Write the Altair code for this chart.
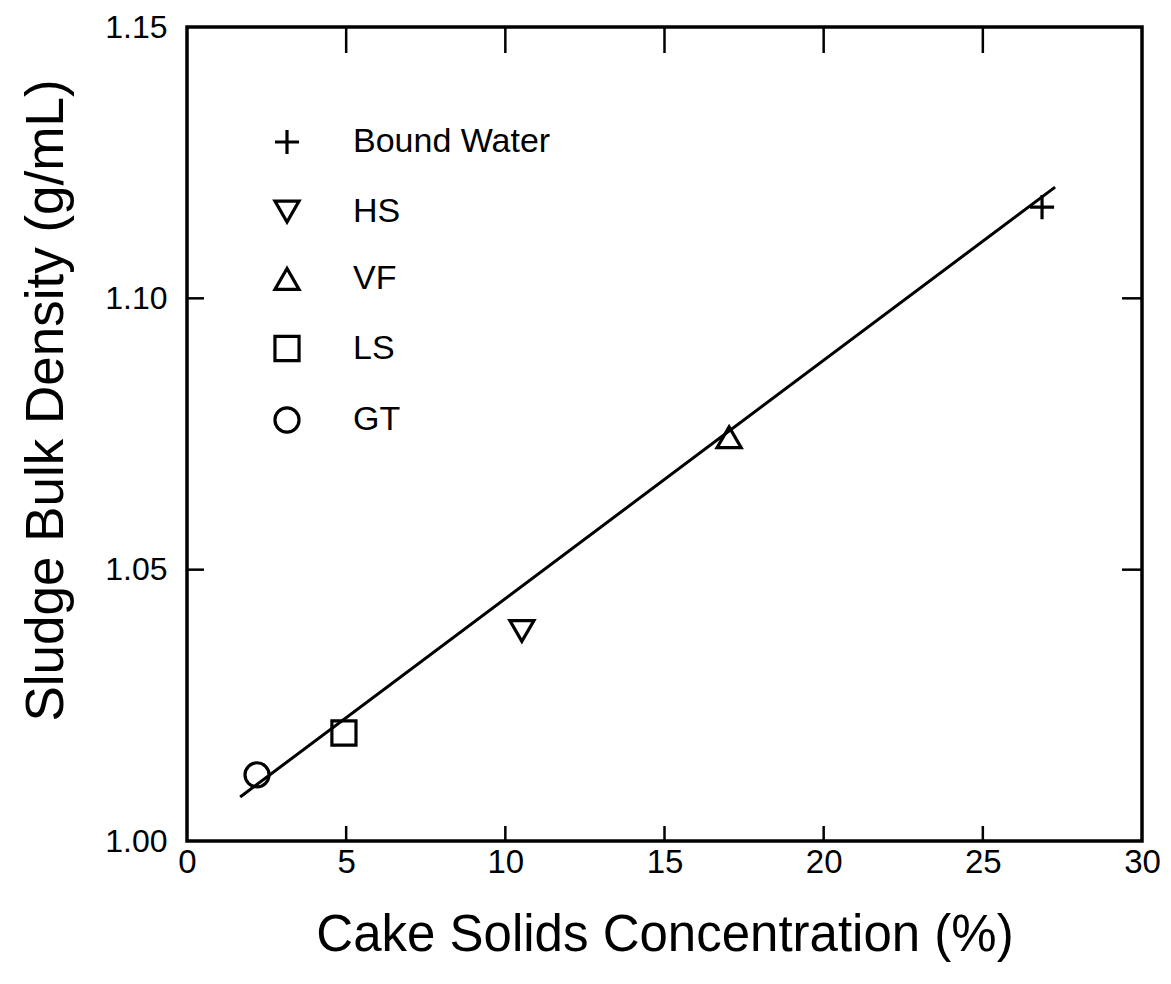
import altair as alt
import pandas as pd

# Data
categories = ["Bound Water", "HS", "VF", "LS", "GT"]
solids = [26.86, 10.52, 17.03, 4.93, 2.2]
density = [1.1168, 1.0387, 1.0744, 1.0199, 1.0122]
shapes = ["M-1,0L1,0M0,-1L0,1", "triangle-down", "triangle-up", "square", "circle"]

line_x = [1.67, 27.27]
line_y = [1.0081, 1.1205]

x_tick_values = [0, 5, 10, 15, 20, 25, 30]
y_tick_values = [1.00, 1.05, 1.10, 1.15]
x_inner_ticks = [5, 10, 15, 20, 25]
y_inner_ticks = [1.05, 1.10]

W, H = 955, 814
FONT = "Liberation Sans"

pts = pd.DataFrame({"label": categories, "x": solids, "y": density})
fit = pd.DataFrame({"x": line_x, "y": line_y})
xt = pd.DataFrame({"t": x_inner_ticks})
yt = pd.DataFrame({"t": y_inner_ticks})

xscale = alt.Scale(domain=[0, 30], nice=False, zero=False)
yscale = alt.Scale(domain=[1.0, 1.15], nice=False, zero=False)

xaxis = alt.Axis(values=x_tick_values, format="d", title="Cake Solids Concentration (%)",
                 ticks=False, domain=False, grid=False, labelFontSize=33, labelFont=FONT,
                 labelColor="black", labelPadding=5, titleFont=FONT, titleFontSize=51,
                 titleFontWeight="normal", titleColor="black", titlePadding=31,
                 labelFlush=False)
yaxis = alt.Axis(values=y_tick_values, format=".2f", title="Sludge Bulk Density (g/mL)",
                 ticks=False, domain=False, grid=False, labelFontSize=32, labelFont=FONT,
                 labelColor="black", labelPadding=20, titleFont=FONT, titleFontSize=53,
                 titleFontWeight="normal", titleColor="black", titlePadding=31,
                 titleY=373, labelFlush=False)

line = alt.Chart(fit).mark_line(color="black", strokeWidth=3).encode(
    x=alt.X("x:Q", scale=xscale, axis=xaxis),
    y=alt.Y("y:Q", scale=yscale, axis=yaxis),
)

points = alt.Chart(pts).mark_point(filled=False, color="black", strokeWidth=3.2, size=580, opacity=1).encode(
    x=alt.X("x:Q", scale=xscale),
    y=alt.Y("y:Q", scale=yscale),
    shape=alt.Shape("label:N", scale=alt.Scale(domain=categories, range=shapes),
                    legend=alt.Legend(title=None, orient="none", legendX=83, legendY=98,
                                      labelFontSize=34, labelFont=FONT, labelColor="black",
                                      symbolStrokeColor="black", symbolStrokeWidth=3.2,
                                      symbolSize=580, rowPadding=33.5, labelOffset=49,
                                      padding=0, labelLimit=400)),
)

bottom_ticks = alt.Chart(xt).mark_rule(color="black", strokeWidth=2.5).encode(
    x=alt.X("t:Q", scale=xscale), y=alt.value(H), y2=alt.value(H - 15))
top_ticks = alt.Chart(xt).mark_rule(color="black", strokeWidth=2.5).encode(
    x=alt.X("t:Q", scale=xscale), y=alt.value(0), y2=alt.value(26))
left_ticks = alt.Chart(yt).mark_rule(color="black", strokeWidth=2.5).encode(
    y=alt.Y("t:Q", scale=yscale), x=alt.value(0), x2=alt.value(17))
right_ticks = alt.Chart(yt).mark_rule(color="black", strokeWidth=2.5).encode(
    y=alt.Y("t:Q", scale=yscale), x=alt.value(W), x2=alt.value(W - 20))

chart = alt.layer(line, points, bottom_ticks, top_ticks, left_ticks, right_ticks).properties(
    width=W, height=H,
    autosize=alt.AutoSizeParams(type="none"),
    padding={"left": 179, "top": 19, "right": 21, "bottom": 135},
    background="white",
).configure_view(stroke="black", strokeWidth=3.5)

chart.save("out.html", embed_options={"renderer": "svg", "actions": False})
